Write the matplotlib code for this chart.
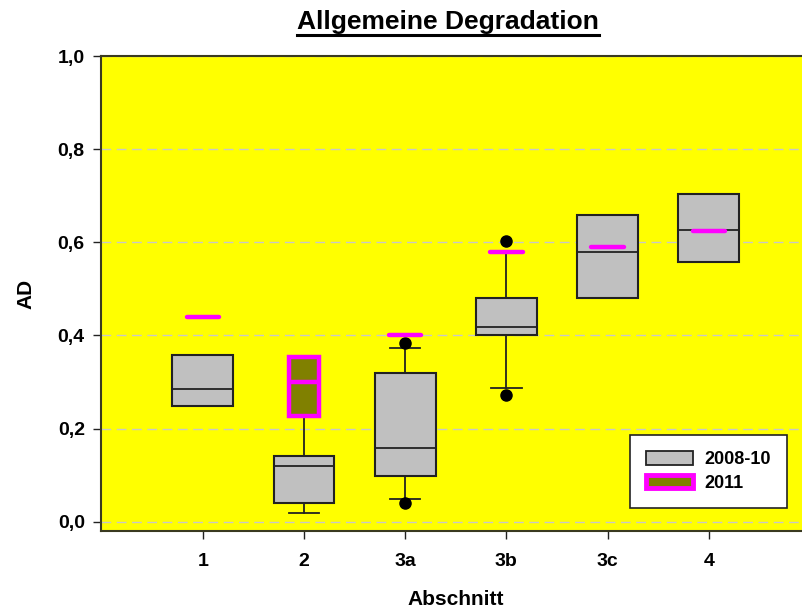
import matplotlib

matplotlib.use("Agg")

import matplotlib.pyplot as plt
from matplotlib.lines import Line2D
from matplotlib.patches import Patch

plt.rcParams["font.family"] = ["Liberation Sans", "DejaVu Sans"]
plt.rcParams["font.weight"] = "bold"

# sections on the x axis
sections = ["1", "2", "3a", "3b", "3c", "4"]

# 2008-10 box statistics per section
q1_0810 = [0.249, 0.041, 0.099, 0.400, 0.480, 0.557]
med_0810 = [0.284, 0.120, 0.159, 0.419, 0.580, 0.626]
q3_0810 = [0.357, 0.140, 0.320, 0.480, 0.658, 0.703]
wlo_0810 = [0.249, 0.019, 0.049, 0.288, 0.480, 0.557]
whi_0810 = [0.357, 0.228, 0.374, 0.576, 0.658, 0.703]
fliers_0810 = [[], [], [0.041, 0.383], [0.271, 0.602], [], []]

# 2011: single values, except section 2 which has a box
single_2011 = [0.44, None, 0.40, 0.58, 0.59, 0.625]
box_2011_section = "2"
box_2011_q1 = 0.228
box_2011_med = 0.301
box_2011_q3 = 0.353

YELLOW = "#ffff00"
GRAY = "#c0c0c0"
OLIVE = "#808000"
MAGENTA = "#ff00ff"
EDGE = "#222222"

fig = plt.figure(figsize=(8.03, 6.13), dpi=100)
# axes runs a little past the right edge of the figure, like the original
ax = fig.add_axes([101.5 / 803, 1 - 531 / 613, 708.5 / 803, 475 / 613])
ax.set_facecolor(YELLOW)

positions = list(range(1, len(sections) + 1))
stats = []
for i, name in enumerate(sections):
    stats.append({
        "label": name,
        "q1": q1_0810[i], "med": med_0810[i], "q3": q3_0810[i],
        "whislo": wlo_0810[i], "whishi": whi_0810[i],
        "fliers": fliers_0810[i],
    })

ax.bxp(
    stats, positions=positions, widths=0.6, patch_artist=True,
    showfliers=True, capwidths=0.3,
    boxprops=dict(facecolor=GRAY, edgecolor=EDGE, linewidth=1.5),
    medianprops=dict(color=EDGE, linewidth=1.3),
    whiskerprops=dict(color=EDGE, linewidth=1.3),
    capprops=dict(color=EDGE, linewidth=1.3),
    flierprops=dict(marker="o", markerfacecolor="black", markeredgecolor="black", markersize=8),
    zorder=3,
)

pos_2011 = positions[sections.index(box_2011_section)]
ax.bxp(
    [{"q1": box_2011_q1, "med": box_2011_med, "q3": box_2011_q3,
      "whislo": box_2011_q1, "whishi": box_2011_q3, "fliers": []}],
    positions=[pos_2011], widths=0.3, patch_artist=True, showcaps=False,
    boxprops=dict(facecolor=OLIVE, edgecolor=MAGENTA, linewidth=3.2),
    medianprops=dict(color=MAGENTA, linewidth=3.2),
    whiskerprops=dict(linewidth=0),
    zorder=4,
)

for p, v in zip(positions, single_2011):
    if v is None:
        continue
    ax.plot([p - 0.16, p + 0.16], [v, v], color=MAGENTA, linewidth=3.2,
            solid_capstyle="round", zorder=5)

ax.set_xlim(0, 7)
ax.set_ylim(-0.02, 1.0)
ax.set_xticks(positions)
ax.set_xticklabels(sections)
ax.set_yticks([0.0, 0.2, 0.4, 0.6, 0.8, 1.0])
ax.set_yticklabels(["0,0", "0,2", "0,4", "0,6", "0,8", "1,0"])
ax.tick_params(direction="out", length=6, width=1, labelsize=14, pad=6, color=EDGE)
ax.tick_params(axis="x", pad=10)
ax.grid(axis="y", color="#c8c8c8", linestyle=(0, (7, 4)), linewidth=1)
ax.set_axisbelow(True)
for side in ["left", "bottom", "top"]:
    ax.spines[side].set_color("#3a3a20")
    ax.spines[side].set_linewidth(1.5)
ax.spines["right"].set_visible(False)

ax.set_xlabel("Abschnitt", fontsize=15, fontweight="bold", labelpad=14)
ax.set_ylabel("AD", fontsize=15, fontweight="bold", labelpad=16)

handles = [
    Patch(facecolor=GRAY, edgecolor=EDGE, linewidth=1.3),
    Patch(facecolor=OLIVE, edgecolor=MAGENTA, linewidth=3.5),
]
leg = ax.legend(
    handles, ["2008-10", "2011"], loc="lower right",
    bbox_to_anchor=((787 - 101.5) / 708.5, 23 / 475), borderaxespad=0, fancybox=False,
    framealpha=1, edgecolor=EDGE, prop=dict(size=13, weight="bold"),
    handlelength=2.6, handleheight=0.8, handletextpad=0.6, borderpad=0.9,
    labelspacing=0.35,
)
leg.get_frame().set_linewidth(1.2)

title = fig.text(448 / 803, 1 - 28.5 / 613, "Allgemeine Degradation", ha="center", va="baseline",
                 fontsize=19, fontweight="bold")
fig.canvas.draw()
bb = title.get_window_extent().transformed(fig.transFigure.inverted())
fig.add_artist(Line2D([bb.x0, bb.x1], [1 - 34.5 / 613] * 2, color="black", linewidth=2.2,
                      transform=fig.transFigure))

fig.savefig("out.png", dpi=100)
